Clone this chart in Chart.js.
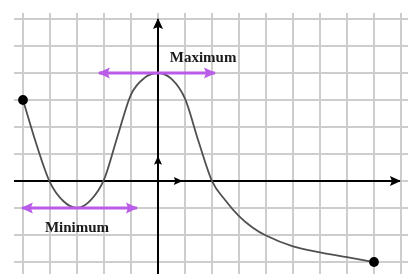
<!DOCTYPE html>
<html>
<head>
<meta charset="utf-8">
<script src="https://cdn.jsdelivr.net/npm/chart.js@4"></script>
<style>
  body { margin: 0; background: #fff; }
</style>
</head>
<body>
<canvas id="chart" width="411" height="274"></canvas>
<script>
// Curve (grid units)
const curveX = [-5, -4.5, -4, -3.5, -3, -2.5, -2, -1.5, -1, -0.5, 0, 0.5, 1, 1.5, 2, 2.5, 3, 3.5, 4, 5, 6, 7, 8];
const curveY = [3, 1.35, -0.05, -0.75, -1, -0.72, 0.05, 1.65, 3.2, 3.82, 4, 3.78, 3.05, 1.47, 0, -0.72, -1.3, -1.72, -2.02, -2.42, -2.64, -2.82, -3];

// Grid lines
const gridXTicks = [-5, -4, -3, -2, -1, 0, 1, 2, 3, 4, 5, 6, 7, 8, 9];
const gridYTicks = [-3, -2, -1, 0, 1, 2, 3, 4, 5, 6];

// Axes (end at the arrow tips)
const xAxisX = [-5.333, 8.96];
const yAxisY = [-3.444, 6.0];
const unitX = [0, 0.88];
const unitY = [0, 0.9];

// Horizontal tangent arrows
const maxArrowX = [-2.19, 2.11];
const maxArrowY = 4;
const minArrowX = [-5.04, -0.78];
const minArrowY = -1;

// Labels
const labelText = ["Maximum", "Minimum"];
const labelX = [1.67, -3.0];
const labelY = [4.55, -1.74];

const purple = "#b95ce8";

const arrowHeads = {
  id: "arrowHeads",
  afterDatasetsDraw(chart) {
    const ctx = chart.ctx;
    chart.data.datasets.forEach((ds, i) => {
      if (!ds.arrowSize) return;
      const pts = chart.getDatasetMeta(i).data;
      const ends = [];
      if (ds.arrowEnd) ends.push([pts[pts.length - 1], pts[pts.length - 2]]);
      if (ds.arrowStart) ends.push([pts[0], pts[1]]);
      ends.forEach(([tip, prev]) => {
        const ang = Math.atan2(tip.y - prev.y, tip.x - prev.x);
        const len = ds.arrowSize;
        const half = ds.arrowSize * 0.5;
        ctx.save();
        ctx.translate(tip.x, tip.y);
        ctx.rotate(ang);
        ctx.beginPath();
        ctx.moveTo(1, 0);
        ctx.lineTo(-len, -half);
        ctx.lineTo(-len * 0.8, 0);
        ctx.lineTo(-len, half);
        ctx.closePath();
        ctx.fillStyle = ds.borderColor;
        ctx.fill();
        ctx.restore();
      });
    });
  },
};

const textLabels = {
  id: "textLabels",
  afterDatasetsDraw(chart) {
    const { ctx, scales } = chart;
    ctx.save();
    ctx.font = "bold 15px 'Liberation Serif', 'DejaVu Serif', serif";
    ctx.fillStyle = "#1a1a1a";
    ctx.textAlign = "center";
    ctx.textBaseline = "middle";
    labelText.forEach((t, i) => {
      ctx.fillText(t, scales.x.getPixelForValue(labelX[i]), scales.y.getPixelForValue(labelY[i]));
    });
    ctx.restore();
  },
};

const line = (data, color, width, extra) =>
  Object.assign({
    data: data,
    borderColor: color,
    backgroundColor: color,
    borderWidth: width,
    pointRadius: 0,
    showLine: true,
    fill: false,
  }, extra);

new Chart(document.getElementById("chart"), {
  type: "scatter",
  data: {
    datasets: [
      line(maxArrowX.map((x) => ({ x: x, y: maxArrowY })), purple, 3, { arrowSize: 11, arrowStart: true, arrowEnd: true }),
      line(minArrowX.map((x) => ({ x: x, y: minArrowY })), purple, 3, { arrowSize: 11, arrowStart: true, arrowEnd: true }),
      line(curveX.map((x, i) => ({ x: x, y: curveY[i] })), "#505050", 1.8, {
        cubicInterpolationMode: "monotone",
        pointRadius: (c) => (c.dataIndex === 0 || c.dataIndex === curveX.length - 1 ? 4 : 0),
        pointBackgroundColor: "#000",
        pointBorderColor: "#000",
      }),
      line(unitX.map((x) => ({ x: x, y: 0 })), "#000", 2, { arrowSize: 8, arrowEnd: true }),
      line(unitY.map((y) => ({ x: 0, y: y })), "#000", 2, { arrowSize: 8, arrowEnd: true }),
      line(xAxisX.map((x) => ({ x: x, y: 0 })), "#000", 2, { arrowSize: 10, arrowEnd: true }),
      line(yAxisY.map((y) => ({ x: 0, y: y })), "#000", 2, { arrowSize: 10, arrowEnd: true }),
    ],
  },
  options: {
    responsive: false,
    animation: false,
    layout: { autoPadding: false, padding: { left: 14, top: 13, right: 3, bottom: 0 } },
    plugins: { legend: { display: false }, tooltip: { enabled: false } },
    scales: {
      x: {
        type: "linear",
        min: -5.333,
        max: 9.259,
        ticks: { display: false },
        border: { display: false },
        grid: { color: "#cdcdcd", lineWidth: 2, drawTicks: false },
        afterBuildTicks: (s) => { s.ticks = gridXTicks.map((v) => ({ value: v })); },
      },
      y: {
        type: "linear",
        min: -3.444,
        max: 6.222,
        ticks: { display: false },
        border: { display: false },
        grid: { color: "#cdcdcd", lineWidth: 2, drawTicks: false },
        afterBuildTicks: (s) => { s.ticks = gridYTicks.map((v) => ({ value: v })); },
      },
    },
  },
  plugins: [arrowHeads, textLabels],
});
</script>
</body>
</html>
